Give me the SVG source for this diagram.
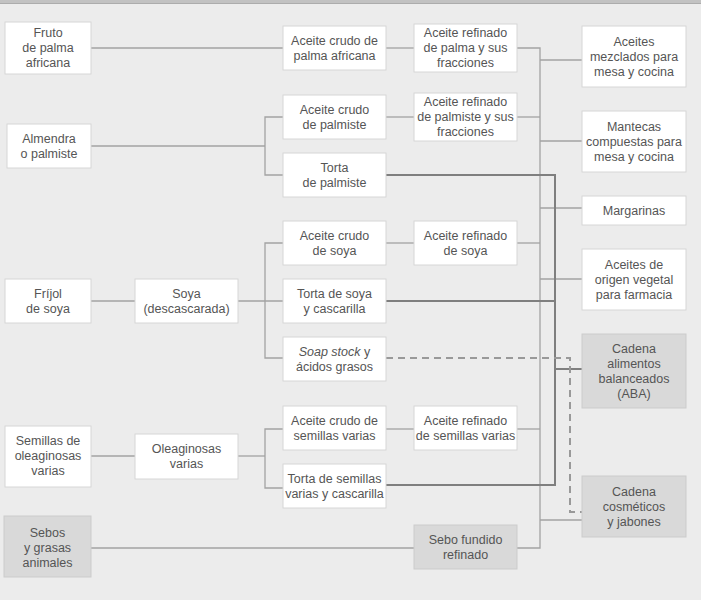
<svg xmlns="http://www.w3.org/2000/svg" width="701" height="600" viewBox="0 0 701 600">
<defs>
<style>
.bg{fill:#ececec}
.b{fill:#ffffff;stroke:#d6d6d6;stroke-width:1}
.g{fill:#d9d9d9;stroke:#cbcbcb;stroke-width:1}
text{font-family:"Liberation Sans","Open Sans",sans-serif;font-size:12.5px;fill:#555555;text-anchor:middle}
.thin{fill:none;stroke:#a3a3a3;stroke-width:1.3}
.thick{fill:none;stroke:#7f7f7f;stroke-width:2}
.dash{fill:none;stroke:#999999;stroke-width:2;stroke-dasharray:7 5}
</style>
</defs>
<rect class="bg" x="0" y="0" width="701" height="600"/>
<rect x="0" y="0" width="701" height="3" fill="#c2c2c2"/>
<line x1="0" y1="3.5" x2="701" y2="3.5" stroke="#acacac" stroke-width="1"/>

<g id="connectors">
<polyline class="thin" points="91,48 283,48"/>
<polyline class="thin" points="386,48 414,48"/>
<polyline class="thin" points="91,146 265,146"/>
<polyline class="thin" points="283,117 265,117 265,175 283,175"/>
<polyline class="thin" points="386,117 414,117"/>
<polyline class="thin" points="91,301 135,301"/>
<polyline class="thin" points="238,301 283,301"/>
<polyline class="thin" points="283,243 265,243 265,358 283,358"/>
<polyline class="thin" points="386,243 414,243"/>
<polyline class="thin" points="91,456 135,456"/>
<polyline class="thin" points="238,456 265,456"/>
<polyline class="thin" points="283,429 265,429 265,488 283,488"/>
<polyline class="thin" points="386,429 414,429"/>
<polyline class="thin" points="91,548 414,548"/>
<polyline class="thin" points="517,48 540,48 540,548 517,548"/>
<polyline class="thin" points="517,117 540,117"/>
<polyline class="thin" points="517,243 540,243"/>
<polyline class="thin" points="517,429 540,429"/>
<polyline class="thin" points="540,60 582,60"/>
<polyline class="thin" points="540,141 582,141"/>
<polyline class="thin" points="540,208 582,208"/>
<polyline class="thin" points="540,279 582,279"/>
<polyline class="thin" points="540,520 582,520"/>
<polyline class="thick" points="386,175 555,175 555,485 386,485"/>
<polyline class="thick" points="386,301 555,301"/>
<polyline class="thick" points="555,369 582,369"/>
<polyline class="dash" points="386,358 570,358 570,512 582,512"/>
</g>

<g id="fruto"><rect class="b" x="5" y="22" width="86" height="52"/><text x="48" y="37">Fruto</text><text x="48" y="52">de palma</text><text x="48" y="67">africana</text></g>
<g id="almendra"><rect class="b" x="7" y="124" width="84" height="44"/><text x="49" y="142.5">Almendra</text><text x="49" y="157.5">o palmiste</text></g>
<g id="frijol"><rect class="b" x="5" y="279" width="86" height="44"/><text x="48" y="297.5">Fríjol</text><text x="48" y="312.5">de soya</text></g>
<g id="soya"><rect class="b" x="135" y="279" width="103" height="44"/><text x="186.5" y="297.5">Soya</text><text x="186.5" y="312.5">(descascarada)</text></g>
<g id="semillas"><rect class="b" x="5" y="426" width="86" height="61"/><text x="48" y="445">Semillas de</text><text x="48" y="460">oleaginosas</text><text x="48" y="475">varias</text></g>
<g id="oleaginosas"><rect class="b" x="135" y="434" width="103" height="45"/><text x="186.5" y="452.5">Oleaginosas</text><text x="186.5" y="467.5">varias</text></g>
<g id="sebos"><rect class="g" x="4" y="516" width="87" height="61"/><text x="47.5" y="537">Sebos</text><text x="47.5" y="552">y grasas</text><text x="47.5" y="567">animales</text></g>

<g id="crudo-palma"><rect class="b" x="283" y="26" width="103" height="44"/><text x="334.5" y="44.5">Aceite crudo de</text><text x="334.5" y="59.5">palma africana</text></g>
<g id="crudo-palmiste"><rect class="b" x="283" y="95" width="103" height="44"/><text x="334.5" y="113.5">Aceite crudo</text><text x="334.5" y="128.5">de palmiste</text></g>
<g id="torta-palmiste"><rect class="b" x="283" y="153" width="103" height="44"/><text x="334.5" y="171.5">Torta</text><text x="334.5" y="186.5">de palmiste</text></g>
<g id="crudo-soya"><rect class="b" x="283" y="221" width="103" height="44"/><text x="334.5" y="239.5">Aceite crudo</text><text x="334.5" y="254.5">de soya</text></g>
<g id="torta-soya"><rect class="b" x="283" y="279" width="103" height="44"/><text x="334.5" y="297.5">Torta de soya</text><text x="334.5" y="312.5">y cascarilla</text></g>
<g id="soap"><rect class="b" x="283" y="337" width="103" height="44"/><text x="334.5" y="355.5"><tspan font-style="italic">Soap stock</tspan> y</text><text x="334.5" y="370.5">ácidos grasos</text></g>
<g id="crudo-semillas"><rect class="b" x="283" y="406" width="103" height="44"/><text x="334.5" y="424.5">Aceite crudo de</text><text x="334.5" y="439.5">semillas varias</text></g>
<g id="torta-semillas"><rect class="b" x="283" y="464" width="103" height="44"/><text x="334.5" y="482.5">Torta de semillas</text><text x="334.5" y="497.5">varias y cascarilla</text></g>

<g id="ref-palma"><rect class="b" x="414" y="24" width="103" height="48"/><text x="465.5" y="37">Aceite refinado</text><text x="465.5" y="52">de palma y sus</text><text x="465.5" y="67">fracciones</text></g>
<g id="ref-palmiste"><rect class="b" x="414" y="93" width="103" height="48"/><text x="465.5" y="106">Aceite refinado</text><text x="465.5" y="121">de palmiste y sus</text><text x="465.5" y="136">fracciones</text></g>
<g id="ref-soya"><rect class="b" x="414" y="221" width="103" height="44"/><text x="465.5" y="239.5">Aceite refinado</text><text x="465.5" y="254.5">de soya</text></g>
<g id="ref-semillas"><rect class="b" x="414" y="406" width="103" height="44"/><text x="465.5" y="424.5">Aceite refinado</text><text x="465.5" y="439.5">de semillas varias</text></g>
<g id="sebo-fundido"><rect class="g" x="414" y="525" width="103" height="44"/><text x="465.5" y="543.5">Sebo fundido</text><text x="465.5" y="558.5">refinado</text></g>

<g id="mezclados"><rect class="b" x="582" y="26" width="104" height="61"/><text x="634" y="45.5">Aceites</text><text x="634" y="60.5">mezclados para</text><text x="634" y="75.5">mesa y cocina</text></g>
<g id="mantecas"><rect class="b" x="582" y="111" width="104" height="61"/><text x="634" y="130.5">Mantecas</text><text x="634" y="145.5">compuestas para</text><text x="634" y="160.5">mesa y cocina</text></g>
<g id="margarinas"><rect class="b" x="582" y="196" width="104" height="29"/><text x="634" y="214.5">Margarinas</text></g>
<g id="farmacia"><rect class="b" x="582" y="249" width="104" height="61"/><text x="634" y="268.5">Aceites de</text><text x="634" y="283.5">origen vegetal</text><text x="634" y="298.5">para farmacia</text></g>
<g id="aba"><rect class="g" x="582" y="334" width="104" height="74"/><text x="634" y="352.5">Cadena</text><text x="634" y="367.5">alimentos</text><text x="634" y="382.5">balanceados</text><text x="634" y="397.5">(ABA)</text></g>
<g id="cosmeticos"><rect class="g" x="582" y="476" width="104" height="61"/><text x="634" y="495.5">Cadena</text><text x="634" y="510.5">cosméticos</text><text x="634" y="525.5">y jabones</text></g>
</svg>
